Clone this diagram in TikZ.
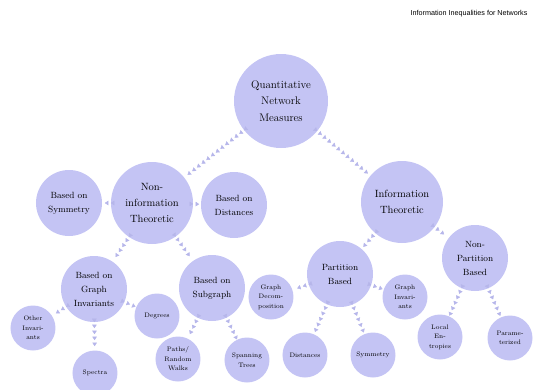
\documentclass[tikz,border=0pt]{standalone}
\usepackage{xcolor}
\usepackage{fontspec}
\newfontfamily\headfont{Liberation Sans}
\usepackage{tikz}
\usetikzlibrary{arrows.meta, positioning, decorations.markings}

\definecolor{bubble}{RGB}{196,196,244}
\definecolor{flowcol}{RGB}{182,182,234}

\begin{document}
\begin{tikzpicture}[node distance=80pt]
\tikzstyle{topic} = [circle, minimum size=94pt, inner sep=1pt, align=center, fill=bubble, font=\fontsize{11}{16.5}\selectfont]
\tikzstyle{branch} = [circle, minimum size=82pt, inner sep=1pt, align=center, fill=bubble, font=\fontsize{10.5}{16}\selectfont]
\tikzstyle{category} = [circle, minimum size=66pt, inner sep=1pt, align=center, fill=bubble, font=\fontsize{9}{14}\selectfont]
\tikzstyle{leaf} = [circle, minimum size=45pt, inner sep=1pt, align=center, fill=bubble, font=\fontsize{6.5}{9.5}\selectfont]
\tikzstyle{header} = [font=\headfont\fontsize{7.2}{9}\selectfont, anchor=east]
\tikzstyle{flow} = [color=flowcol, decoration={markings, mark=between positions 0 and 1 step 6pt with {\arrow{Triangle[width=4.5pt,length=3.5pt]}}}, postaction={decorate}]

\useasboundingbox (-281pt,101pt) rectangle (252pt,-288pt);

\node (title) [header] at (250pt,87pt) {Information Inequalities for Networks};

% top levels
\node (root) [topic] {Quantitative\\Network\\Measures};
\node (noninfo) [branch, below of=root, xshift=-129pt, yshift=-22pt] {Non-\\information\\Theoretic};
\node (info) [branch, below of=root, xshift=121pt, yshift=-21pt] {Information\\Theoretic};

% non-information theoretic side
\node (symm) [category, left of=noninfo, xshift=-3pt] {Based on\\Symmetry};
\node (dist) [category, right of=noninfo, xshift=2pt, yshift=-2pt] {Based on\\Distances};
\node (ginv) [category, below of=noninfo, xshift=-58pt, yshift=-6pt] {Based on\\Graph\\Invariants};
\node (subg) [category, below of=noninfo, xshift=60pt, yshift=-5pt] {Based on\\Subgraph};
\node (other) [leaf, left of=ginv, xshift=19pt, yshift=-39pt] {Other\\Invari-\\ants};
\node (deg) [leaf, right of=ginv, xshift=-17pt, yshift=-27pt] {Degrees};
\node (spec) [leaf, below of=ginv, xshift=1pt, yshift=-4pt] {Spectra};
\node (paths) [leaf, below of=subg, xshift=-34pt, yshift=9pt] {Paths/\\Random\\Walks};
\node (span) [leaf, below of=subg, xshift=35pt, yshift=8pt] {Spanning\\Trees};

% information theoretic side
\node (part) [category, below of=info, xshift=-62pt, yshift=8pt] {Partition\\Based};
\node (nonpart) [category, below of=info, xshift=73pt, yshift=24pt] {Non-\\Partition\\Based};
\node (gdec) [leaf, left of=part, xshift=11pt, yshift=-23pt] {Graph\\Decom-\\position};
\node (ginvp) [leaf, right of=part, xshift=-15pt, yshift=-23pt] {Graph\\Invari-\\ants};
\node (pdist) [leaf, below of=part, xshift=-35pt, yshift=-1pt] {Distances};
\node (psym) [leaf, below of=part, xshift=33pt, yshift=-1pt] {Symmetry};
\node (local) [leaf, below of=nonpart, xshift=-35pt, yshift=1pt] {Local\\En-\\tropies};
\node (param) [leaf, below of=nonpart, xshift=35pt] {Parame-\\terized};

\path [flow] (root) -- (noninfo);
\path [flow] (root) -- (info);
\path [flow] (noninfo) -- (symm);
\path [flow] (noninfo) -- (dist);
\path [flow] (noninfo) -- (ginv);
\path [flow] (noninfo) -- (subg);
\path [flow] (ginv) -- (other);
\path [flow] (ginv) -- (deg);
\path [flow] (ginv) -- (spec);
\path [flow] (subg) -- (paths);
\path [flow] (subg) -- (span);
\path [flow] (info) -- (part);
\path [flow] (info) -- (nonpart);
\path [flow] (part) -- (gdec);
\path [flow] (part) -- (ginvp);
\path [flow] (part) -- (pdist);
\path [flow] (part) -- (psym);
\path [flow] (nonpart) -- (local);
\path [flow] (nonpart) -- (param);
\end{tikzpicture}
\end{document}
